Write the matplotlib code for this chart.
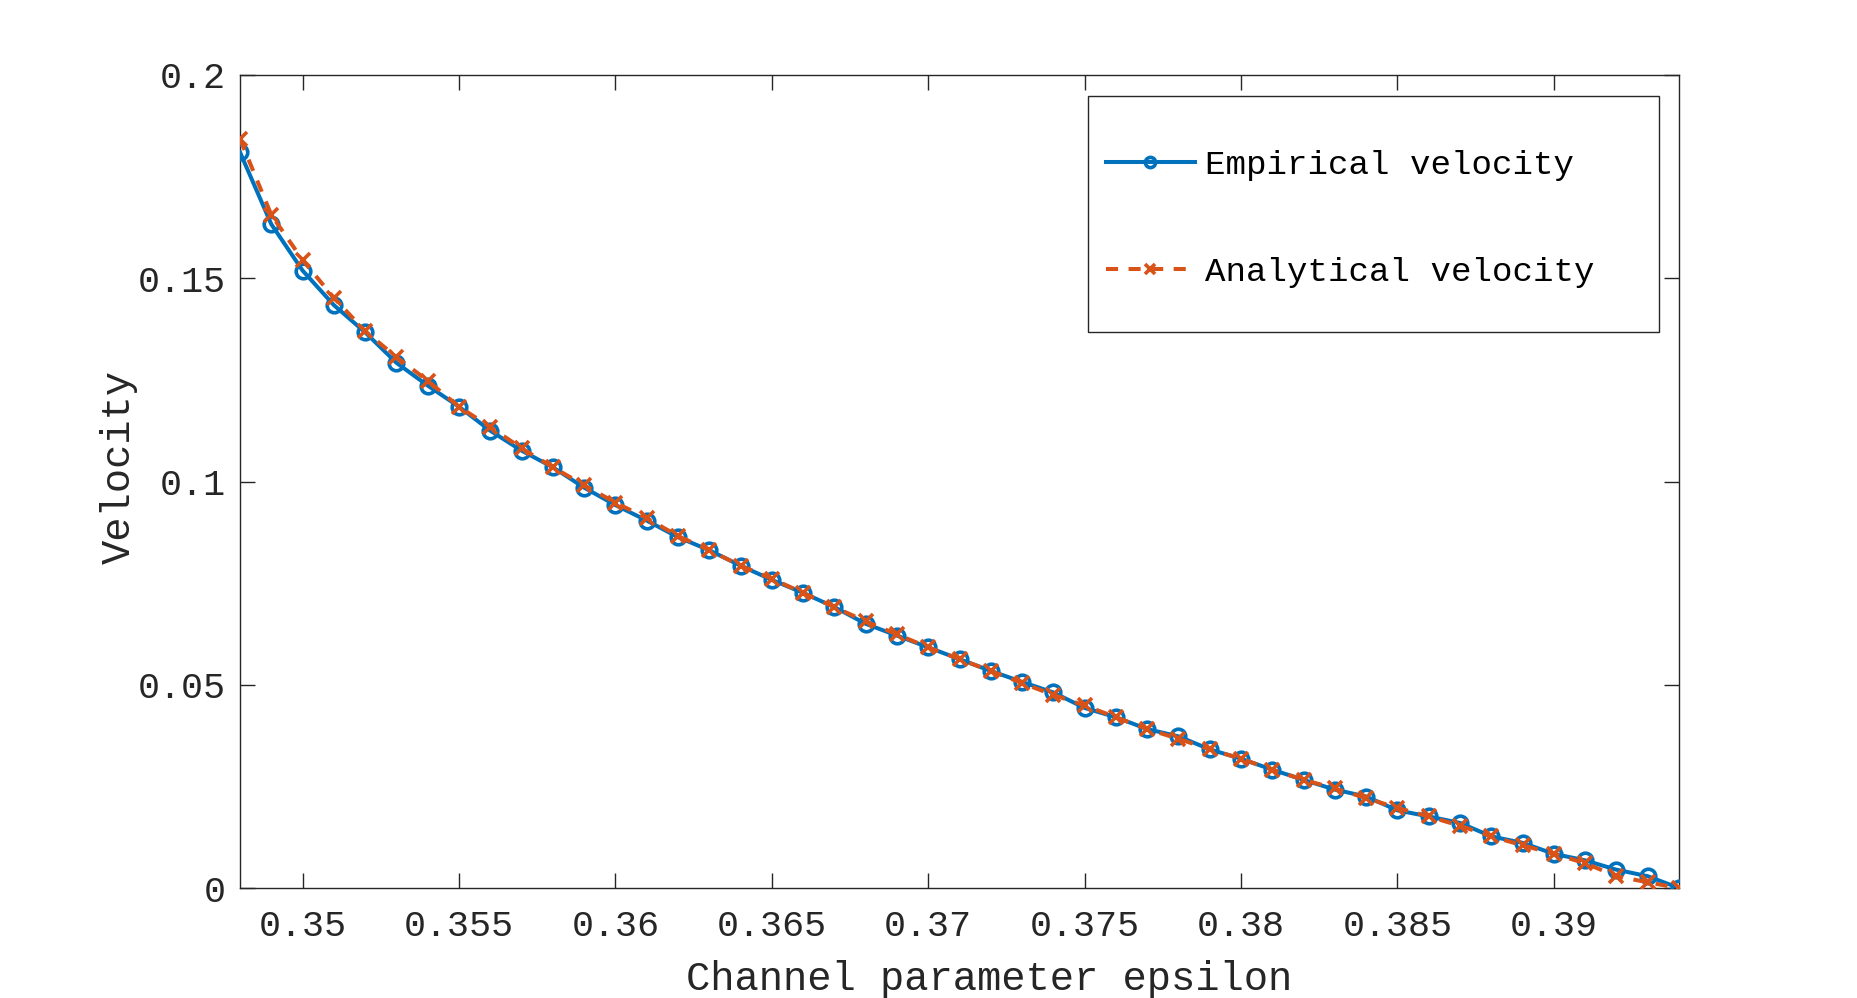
import matplotlib
matplotlib.use("Agg")
import matplotlib.pyplot as plt
from matplotlib.patches import Rectangle
from matplotlib.ticker import FixedLocator, FuncFormatter

# Data
epsilon = [0.348, 0.349, 0.350, 0.351, 0.352, 0.353, 0.354, 0.355, 0.356, 0.357,
           0.358, 0.359, 0.360, 0.361, 0.362, 0.363, 0.364, 0.365, 0.366, 0.367,
           0.368, 0.369, 0.370, 0.371, 0.372, 0.373, 0.374, 0.375, 0.376, 0.377,
           0.378, 0.379, 0.380, 0.381, 0.382, 0.383, 0.384, 0.385, 0.386, 0.387,
           0.388, 0.389, 0.390, 0.391, 0.392, 0.393, 0.394]
empirical = [0.1810, 0.1633, 0.1519, 0.1434, 0.1367, 0.1292, 0.1236, 0.1184, 0.1125, 0.1076,
             0.1035, 0.0985, 0.0942, 0.0904, 0.0863, 0.0831, 0.0793, 0.0758, 0.0726, 0.0691,
             0.0650, 0.0621, 0.0592, 0.0563, 0.0534, 0.0507, 0.0481, 0.0443, 0.0420, 0.0391,
             0.0373, 0.0341, 0.0318, 0.0291, 0.0266, 0.0242, 0.0225, 0.0191, 0.0176, 0.0160,
             0.0127, 0.0111, 0.0084, 0.0068, 0.0045, 0.0029, 0.0000]
analytical = [0.1843, 0.1656, 0.1545, 0.1452, 0.1370, 0.1306, 0.1248, 0.1184, 0.1134, 0.1082,
              0.1035, 0.0991, 0.0948, 0.0910, 0.0866, 0.0831, 0.0793, 0.0761, 0.0726, 0.0691,
              0.0656, 0.0624, 0.0592, 0.0563, 0.0534, 0.0504, 0.0475, 0.0449, 0.0420, 0.0391,
              0.0367, 0.0341, 0.0318, 0.0291, 0.0266, 0.0245, 0.0221, 0.0197, 0.0176, 0.0153,
              0.0127, 0.0105, 0.0084, 0.0061, 0.0029, 0.0014, 0.0000]
xticks = [0.35, 0.355, 0.36, 0.365, 0.37, 0.375, 0.38, 0.385, 0.39]
yticks = [0, 0.05, 0.1, 0.15, 0.2]
labels = ["Empirical velocity", "Analytical velocity"]

W, H = 1857, 998
fig = plt.figure(figsize=(W / 100, H / 100), dpi=100)
plt.rcParams['font.family'] = ['Liberation Mono', 'DejaVu Sans Mono']
ax = fig.add_axes([240 / W, 1 - 888 / H, (1679 - 240) / W, (888 - 75) / H])

blue = (0.0, 0.447, 0.741)
orange = (0.85, 0.325, 0.098)
axcol = (0.15, 0.15, 0.15)

l1, = ax.plot(epsilon, empirical, '-', color=blue, lw=2.9, marker='o', ms=10.5,
              mew=2.6, mfc='none', mec=blue, label=labels[0], zorder=3)
l2, = ax.plot(epsilon, analytical, '--', color=orange, lw=2.9, marker='x', ms=9.5,
              mew=2.6, label=labels[1], dashes=(3.0, 2.6), zorder=4)

ax.set_xlim(epsilon[0], epsilon[-1])
ax.set_ylim(0, 0.2)
ax.xaxis.set_major_locator(FixedLocator(xticks))
ax.yaxis.set_major_locator(FixedLocator(yticks))
fmt = FuncFormatter(lambda v, p: ('%g' % round(v, 4)))
ax.xaxis.set_major_formatter(fmt)
ax.yaxis.set_major_formatter(fmt)

for s in ax.spines.values():
    s.set_color(axcol)
    s.set_linewidth(1.0)
ax.tick_params(direction='in', length=11, width=1.0, color=axcol, labelcolor=axcol,
               labelsize=26.5, top=True, right=True)
ax.tick_params(axis='x', pad=15)
ax.tick_params(axis='y', pad=10)

ax.set_xlabel("Channel parameter epsilon", fontsize=29.2, color=axcol, labelpad=12)
ax.set_ylabel("Velocity", fontsize=29.2, color=axcol, labelpad=0)
ax.xaxis.label.set_x(0.5205)
ax.yaxis.label.set_y(0.518)

# Legend frame and entries
fig.patches.append(Rectangle((1088 / W, 1 - 332 / H), (1659 - 1088) / W, (332 - 96) / H,
                             transform=fig.transFigure, facecolor='white',
                             edgecolor=axcol, lw=1.0, zorder=5))
leg = fig.legend(handles=[l1, l2], labels=labels, loc='center left',
                 bbox_to_anchor=(1106 / W, 1 - 219 / H), frameon=False,
                 fontsize=24.6, handlelength=2.6, handletextpad=0.3,
                 labelspacing=2.25, borderpad=0, borderaxespad=0, markerscale=0.7)
for t in leg.get_texts():
    t.set_color('black')

fig.savefig("out.png", dpi=100, facecolor='white')
